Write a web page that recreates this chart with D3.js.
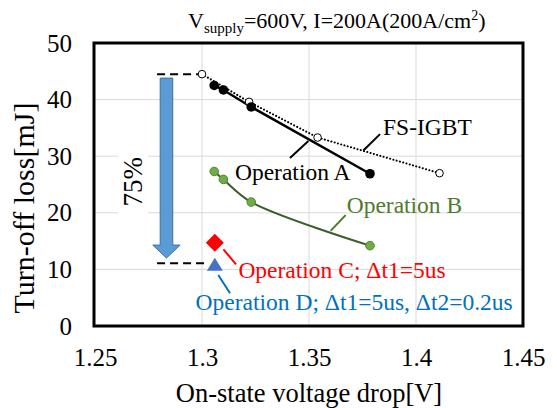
<!DOCTYPE html>
<html>
<head>
<meta charset="utf-8">
<script src="https://cdn.jsdelivr.net/npm/d3@7"></script>
<style>
  html, body { margin: 0; padding: 0; background: #fff; }
  svg { display: block; }
  svg text { font-family: "Liberation Serif", "Times New Roman", serif; }
</style>
</head>
<body>
<svg id="chart" width="557" height="408"></svg>
<script>
// Turn-off loss vs on-state voltage drop
const xTicks = [1.25, 1.3, 1.35, 1.4, 1.45];
const yTicks = [0, 10, 20, 30, 40, 50];

const fsIgbtV = [1.300, 1.322, 1.354, 1.411];
const fsIgbtE = [44.5, 39.6, 33.3, 27.0];

const opAV = [1.3057, 1.310, 1.323, 1.3785];
const opAE = [42.5, 41.7, 38.7, 26.9];

const opBV = [1.3057, 1.310, 1.323, 1.3785];
const opBE = [27.3, 25.9, 21.9, 14.2];

const opCV = [1.306];
const opCE = [14.7];

const opDV = [1.306];
const opDE = [10.8];

// reference levels for the 75% reduction bracket
const refLevels = [44.5, 11.1];

const SERIF = "Liberation Serif";
const svg = d3.select("#chart");
const mLeft = 95, mRight = 523, mTop = 43, mBottom = 326;

const x = d3.scaleLinear().domain([1.25, 1.45]).range([mLeft, mRight]);
const y = d3.scaleLinear().domain([0, 50]).range([mBottom, mTop]);

// gridlines
svg.append("g")
  .selectAll("line")
  .data(xTicks.slice(1, -1))
  .join("line")
  .attr("x1", d => x(d)).attr("x2", d => x(d))
  .attr("y1", mTop).attr("y2", mBottom)
  .attr("stroke", "#d9d9d9").attr("stroke-width", 1);
svg.append("g")
  .selectAll("line")
  .data(yTicks.slice(1, -1))
  .join("line")
  .attr("x1", mLeft).attr("x2", mRight)
  .attr("y1", d => y(d)).attr("y2", d => y(d))
  .attr("stroke", "#d9d9d9").attr("stroke-width", 1);

// axes (labels only; frame drawn separately)
const yAxis = svg.append("g")
  .attr("transform", `translate(${mLeft},0)`)
  .call(d3.axisLeft(y).tickValues(yTicks).tickSize(0).tickPadding(23).tickFormat(d3.format("d")));
yAxis.select(".domain").remove();
yAxis.attr("font-family", SERIF);
yAxis.selectAll("text")
  .attr("font-family", SERIF).attr("font-size", 25).attr("fill", "#000");

const xAxis = svg.append("g")
  .attr("transform", `translate(0,${mBottom})`)
  .call(d3.axisBottom(x).tickValues(xTicks).tickSize(0).tickPadding(22).tickFormat(d => String(d)));
xAxis.select(".domain").remove();
xAxis.attr("font-family", SERIF);
xAxis.selectAll("text")
  .attr("font-family", SERIF).attr("font-size", 25).attr("fill", "#000");

// axis titles
svg.append("text")
  .attr("x", (mLeft + mRight) / 2).attr("y", 402)
  .attr("text-anchor", "middle")
  .attr("font-family", SERIF).attr("font-size", 26.5)
  .text("On-state voltage drop[V]");
svg.append("text")
  .attr("transform", "translate(34,208) rotate(-90)")
  .attr("text-anchor", "middle")
  .attr("font-family", SERIF).attr("font-size", 30)
  .text("Turn-off loss[mJ]");

// title with subscript / superscript
const title = svg.append("text")
  .attr("x", 188).attr("y", 28)
  .attr("font-family", SERIF).attr("font-size", 22);
title.append("tspan").text("V");
title.append("tspan").attr("font-size", 15).attr("dy", 5).text("supply");
title.append("tspan").attr("dy", -5).text("=600V, I=200A(200A/cm");
title.append("tspan").attr("font-size", 14).attr("dy", -8).text("2");
title.append("tspan").attr("dy", 8).text(")");

// reference dashed levels
const dashStart = 1.279;
svg.append("line")
  .attr("x1", x(dashStart)).attr("x2", x(fsIgbtV[0]))
  .attr("y1", y(refLevels[0])).attr("y2", y(refLevels[0]))
  .attr("stroke", "#000").attr("stroke-width", 2).attr("stroke-dasharray", "8,5");
svg.append("line")
  .attr("x1", x(dashStart)).attr("x2", x(1.3025))
  .attr("y1", y(refLevels[1])).attr("y2", y(refLevels[1]))
  .attr("stroke", "#000").attr("stroke-width", 2).attr("stroke-dasharray", "8,5");

// down arrow
const ax = x(1.2834), aTop = y(43.8), aNeck = y(14.3), aTip = y(12.0);
const sw = 6.3, hw = 13.7;
svg.append("path")
  .attr("d", `M${ax - sw},${aTop} L${ax + sw},${aTop} L${ax + sw},${aNeck} L${ax + hw},${aNeck} L${ax},${aTip} L${ax - hw},${aNeck} L${ax - sw},${aNeck} Z`)
  .attr("fill", "#5b9bd5").attr("stroke", "#41719c").attr("stroke-width", 1);

// 75% label with white backing
const pcX = x(1.2678), pcY = y(25.5);
svg.append("rect")
  .attr("x", pcX - 15).attr("y", pcY - 33).attr("width", 30).attr("height", 66)
  .attr("fill", "#fff");
svg.append("text")
  .attr("transform", `translate(${pcX + 9},${pcY}) rotate(-90)`)
  .attr("text-anchor", "middle")
  .attr("font-family", SERIF).attr("font-size", 27)
  .text("75%");

// series lines
const line = d3.line().x(d => x(d[0])).y(d => y(d[1]));
const fsPts = d3.zip(fsIgbtV, fsIgbtE);
const aPts = d3.zip(opAV, opAE);
const bPts = d3.zip(opBV, opBE);

svg.append("path").datum(aPts)
  .attr("d", line).attr("fill", "none").attr("stroke", "#000").attr("stroke-width", 2.5);
svg.append("path").datum(fsPts)
  .attr("d", line).attr("fill", "none").attr("stroke", "#000").attr("stroke-width", 2)
  .attr("stroke-dasharray", "0.1,3.3").attr("stroke-linecap", "round");
svg.append("path").datum(bPts)
  .attr("d", d3.line().x(d => x(d[0])).y(d => y(d[1])).curve(d3.curveCatmullRom.alpha(0.5)))
  .attr("fill", "none").attr("stroke", "#3b5e2b").attr("stroke-width", 2);

// markers
svg.append("g").selectAll("circle").data(fsPts).join("circle")
  .attr("cx", d => x(d[0])).attr("cy", d => y(d[1])).attr("r", 3.8)
  .attr("fill", "#fff").attr("stroke", "#000").attr("stroke-width", 1);
svg.append("g").selectAll("circle").data(aPts).join("circle")
  .attr("cx", d => x(d[0])).attr("cy", d => y(d[1])).attr("r", 4.8)
  .attr("fill", "#000");
svg.append("g").selectAll("circle").data(bPts).join("circle")
  .attr("cx", d => x(d[0])).attr("cy", d => y(d[1])).attr("r", 4.3)
  .attr("fill", "#70ad47").attr("stroke", "#548235").attr("stroke-width", 1);

// Operation C diamond
svg.append("g").selectAll("path").data(d3.zip(opCV, opCE)).join("path")
  .attr("transform", d => `translate(${x(d[0])},${y(d[1])})`)
  .attr("d", "M0,-9 L9,0 L0,9 L-9,0 Z")
  .attr("fill", "#ff0000");
// Operation D triangle
svg.append("g").selectAll("path").data(d3.zip(opDV, opDE)).join("path")
  .attr("transform", d => `translate(${x(d[0])},${y(d[1])})`)
  .attr("d", "M0,-7 L8,6 L-8,6 Z")
  .attr("fill", "#4472c4");

// callout labels with leader lines (positions in data units)
const callouts = [
  { text: "FS-IGBT", color: "#000", tx: 1.3846, ty: 33.7, l: [[1.3832, 33.9], [1.3754, 31.0]] },
  { text: "Operation A", color: "#000", tx: 1.3154, ty: 25.8, l: [[1.3411, 29.7], [1.3497, 32.7]] },
  { text: "Operation B", color: "#4e7a2e", tx: 1.3676, ty: 20.0, l: [[1.3671, 19.6], [1.3601, 16.8]] },
  { text: "Operation C; \u0394t1=5us", color: "#ff0000", tx: 1.317, ty: 8.43, l: [[1.3100, 13.55], [1.3159, 10.9]] },
  { text: "Operation D; \u0394t1=5us, \u0394t2=0.2us", color: "#0070c0", tx: 1.297, ty: 2.83, l: [[1.3076, 9.0], [1.3131, 5.78]] }
];
callouts.forEach(c => {
  svg.append("line")
    .attr("x1", x(c.l[0][0])).attr("y1", y(c.l[0][1]))
    .attr("x2", x(c.l[1][0])).attr("y2", y(c.l[1][1]))
    .attr("stroke", c.color).attr("stroke-width", 2);
  svg.append("text")
    .attr("x", x(c.tx)).attr("y", y(c.ty))
    .attr("font-family", SERIF).attr("font-size", 23.5)
    .attr("fill", c.color)
    .text(c.text);
});

// plot frame
svg.append("rect")
  .attr("x", mLeft - 1).attr("y", mTop).attr("width", mRight - mLeft + 1).attr("height", mBottom - mTop)
  .attr("fill", "none").attr("stroke", "#000").attr("stroke-width", 3);
</script>
</body>
</html>
